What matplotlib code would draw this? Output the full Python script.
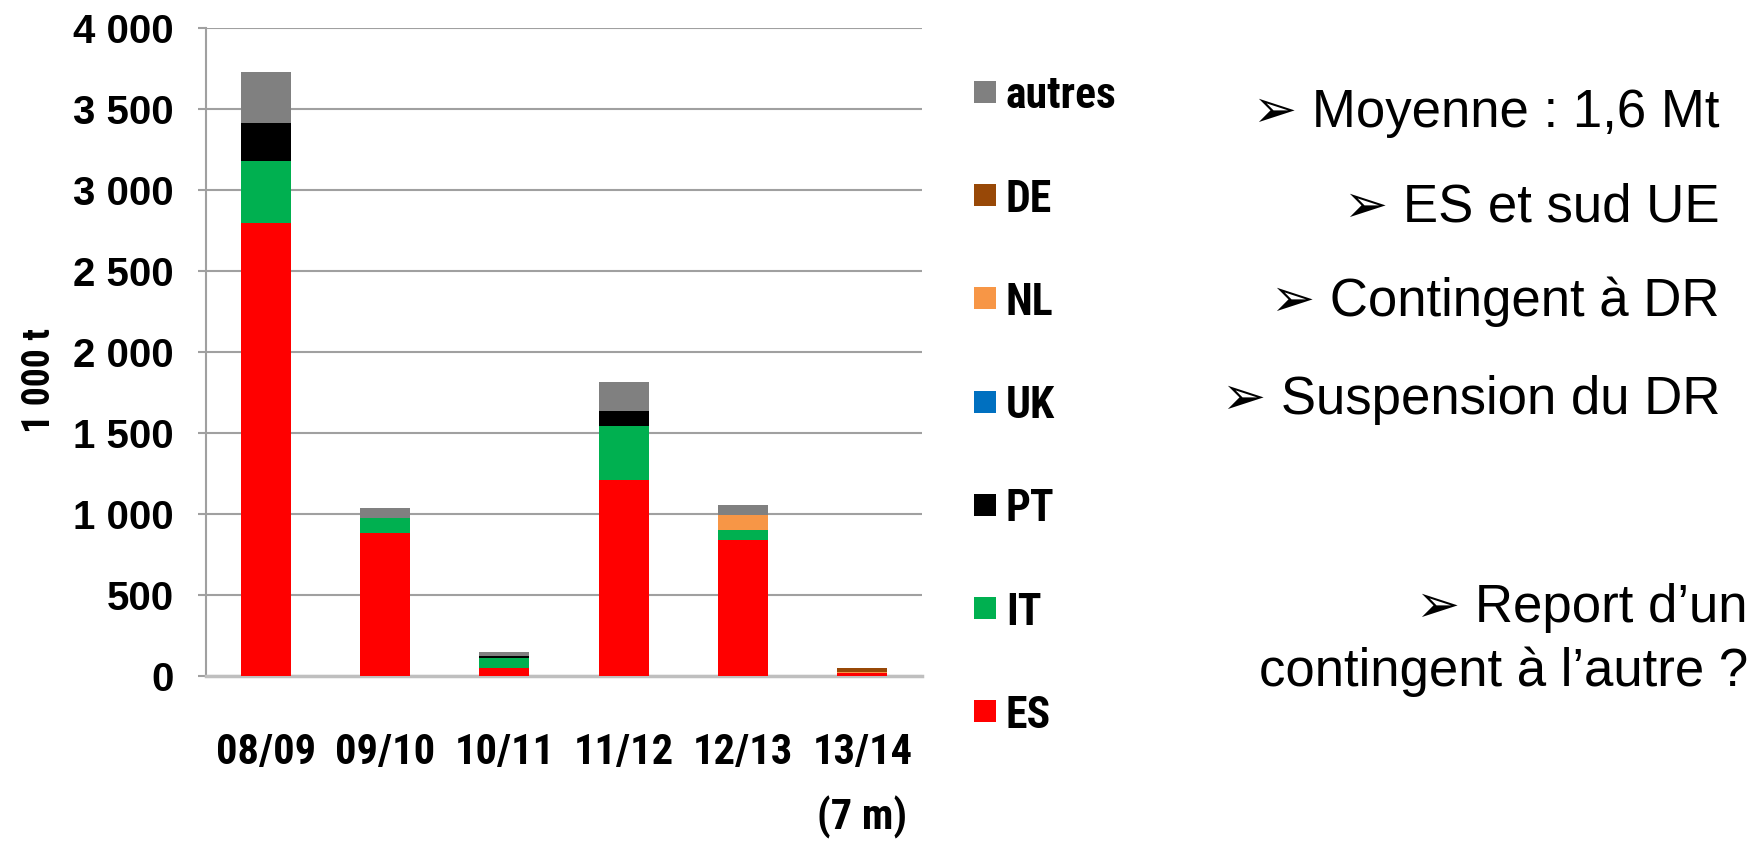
import matplotlib
matplotlib.use("Agg")
import matplotlib.pyplot as plt
from matplotlib import font_manager as fm
from matplotlib.patches import Rectangle
import numpy as np

# ---- data (1000 t) ----
seasons = ["08/09", "09/10", "10/11", "11/12", "12/13", "13/14\n(7 m)"]
ES = [2794, 880, 49, 1210, 838, 17]
IT = [386, 96, 62, 331, 62, 0]
PT = [234, 0, 12, 92, 0, 0]
UK = [0, 0, 0, 0, 0, 0]
NL = [0, 0, 0, 0, 92, 6]
DE = [0, 0, 0, 0, 0, 26]
autres = [315, 59, 25, 179, 62, 0]

series_names = ["ES", "IT", "PT", "UK", "NL", "DE", "autres"]
series_values = [ES, IT, PT, UK, NL, DE, autres]
series_colors = ["#FF0000", "#00B050", "#000000", "#0070C0", "#F79646", "#984807", "#808080"]

yticks = [0, 500, 1000, 1500, 2000, 2500, 3000, 3500, 4000]
ytick_labels = ["0", "500", "1 000", "1 500", "2 000", "2 500", "3 000", "3 500", "4 000"]

notes = ["\u27a2 Moyenne : 1,6 Mt", "\u27a2 ES et sud UE", "\u27a2 Contingent à DR", "\u27a2 Suspension du DR"]
note_last = "\u27a2 Report d\u2019un\ncontingent à l\u2019autre ?"

regular = ["Liberation Sans", "DejaVu Sans"]

# ---- find a condensed bold font if one is installed ----
names = {f.name for f in fm.fontManager.ttflist}
cond_family, cond_stretch = None, "normal"
for p in ["Liberation Sans Narrow", "Arial Narrow", "Roboto Condensed", "Open Sans Condensed",
          "Noto Sans Condensed", "DejaVu Sans Condensed", "Nimbus Sans Narrow"]:
    if p in names:
        cond_family = p
        break
if cond_family is None:
    pref = ["Liberation Sans", "Roboto", "Noto Sans", "Open Sans", "DejaVu Sans", "Inter", "Lato"]
    best = None
    for f in fm.fontManager.ttflist:
        if f.stretch in ("condensed", "semi-condensed", "extra-condensed", "ultra-condensed"):
            rank = pref.index(f.name) if f.name in pref else len(pref)
            if "CJK" in f.name or "Mono" in f.name or "Serif" in f.name:
                continue
            if best is None or rank < best[0]:
                best = (rank, f.name, f.stretch)
    if best is not None:
        cond_family, cond_stretch = best[1], best[2]
if cond_family is None:
    cond_family = "Liberation Sans"
narrow = [cond_family, "DejaVu Sans"]

fig = plt.figure(figsize=(17.65, 8.46), dpi=100)
renderer = fig.canvas.get_renderer()


def fit_size(s, family, weight, stretch, target_px, max_pt):
    fp = fm.FontProperties(family=family, weight=weight, stretch=stretch, size=100)
    w, h, d = renderer.get_text_width_height_descent(s, fp, ismath=False)
    return min(max_pt, 100 * target_px / w)


xl_size = fit_size("08/09", narrow, "bold", cond_stretch, 100, 46)
lg_size = fit_size("autres", narrow, "bold", cond_stretch, 111, 44)
yl_size = lg_size * 0.86

ax = fig.add_axes([206 / 1765, 1 - 676 / 846, 716 / 1765, 648 / 846])

x = np.arange(len(seasons))
bottom = np.zeros(len(seasons))
for name, vals, col in zip(series_names, series_values, series_colors):
    ax.bar(x, vals, width=0.42, bottom=bottom, color=col, label=name, zorder=3)
    bottom += np.array(vals, dtype=float)

ax.set_xlim(-0.5, len(seasons) - 0.5)
ax.set_ylim(0, 4000)
ax.set_yticks(yticks)
ax.set_yticklabels(ytick_labels, fontfamily=regular, fontweight="bold", fontsize=29)
ax.set_xticks(x)
ax.set_xticklabels(seasons, fontfamily=narrow, fontweight="bold", fontstretch=cond_stretch,
                   fontsize=xl_size, linespacing=1.68, va="top")
ax.tick_params(axis="x", length=0, pad=40)
ax.tick_params(axis="y", length=6, width=1.5, color="#A0A0A0", pad=17)

ax.yaxis.grid(True, color="#A0A0A0", linewidth=1.5, zorder=0)
ax.set_axisbelow(True)
ax.spines["right"].set_visible(False)
ax.spines["top"].set_visible(False)
ax.spines["left"].set_color("#A0A0A0")
ax.spines["left"].set_linewidth(1.5)
ax.spines["bottom"].set_color("#BFBFBF")
ax.spines["bottom"].set_linewidth(2.5)

ax.set_ylabel("1 000 t", fontfamily=narrow, fontweight="bold", fontstretch=cond_stretch, fontsize=yl_size)
ax.yaxis.label.set_va("center")
ax.yaxis.set_label_coords((39 - 206) / 716, (676 - 380) / 648)

# legend, drawn manually (autres on top)
for i, (name, col) in enumerate(zip(series_names[::-1], series_colors[::-1])):
    yc = 92 + i * 103.2
    fig.patches.append(Rectangle((974 / 1765, 1 - (yc + 11) / 846), 22 / 1765, 22 / 846,
                                 transform=fig.transFigure, facecolor=col, edgecolor="none"))
    fig.text(1006 / 1765, 1 - yc / 846, name, ha="left", va="center_baseline",
             fontfamily=narrow, fontweight="bold", fontstretch=cond_stretch, fontsize=lg_size)

# notes on the right
note_y = [113, 208, 302, 400]
for txt, yy in zip(notes, note_y):
    fig.text(1720 / 1765, 1 - yy / 846, txt, ha="right", va="center",
             fontfamily=regular, fontsize=38)
fig.text(1748 / 1765, 1 - 640 / 846, note_last, ha="right", va="center",
         fontfamily=regular, fontsize=38, multialignment="right", linespacing=1.32)

fig.savefig("out.png", dpi=100)
